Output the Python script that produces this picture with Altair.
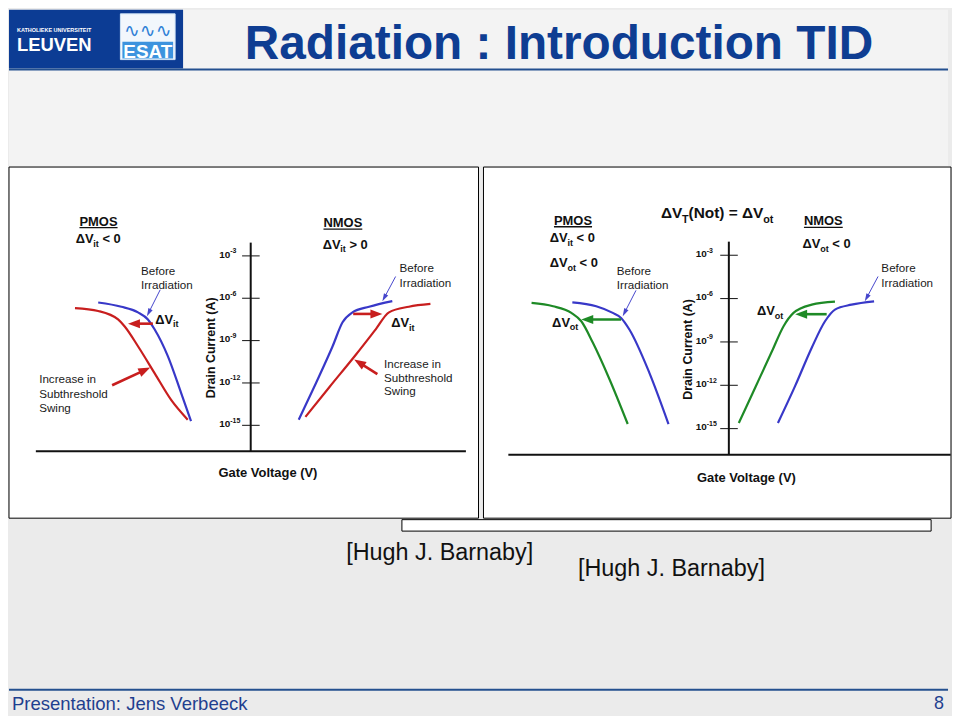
import math
import altair as alt
import pandas as pd

FONT = "Liberation Sans"
C_BLUE = "#3838c8"
C_RED = "#c81e1e"
C_GREEN = "#1e8a26"
C_PTR = "#4646cc"
C_INK = "#111111"
C_SLIDE = "#0e3d92"
C_LINE = "#24508f"
NB = "\u00a0"

# ---------------- left panel: interface traps (x = gate voltage, E = log10 drain current) ----------------
L_PRE_P_V = [-4.6, -3.9, -3.4, -3.1, -2.9, -2.5, -2.1, -1.8]
L_PRE_P_E = [-6.3, -6.6, -7.0, -7.5, -8.2, -10.1, -12.7, -14.7]
L_POST_P_V = [-5.3, -4.6, -4.0, -3.8, -3.4, -2.9, -2.4, -1.9]
L_POST_P_E = [-6.7, -6.9, -7.5, -8.0, -9.4, -11.3, -13.2, -14.6]
L_PRE_N_V = [1.45, 1.97, 2.47, 2.77, 3.07, 3.57, 4.27]
L_PRE_N_E = [-14.6, -12.0, -9.4, -7.7, -7.0, -6.6, -6.2]
L_POST_N_V = [1.65, 2.37, 3.17, 3.77, 4.17, 4.77, 5.42]
L_POST_N_E = [-14.4, -12.3, -10.0, -8.2, -7.0, -6.6, -6.4]

# ---------------- right panel: oxide traps ----------------
R_PRE_P_V = [-4.72, -4.0, -3.5, -3.25, -3.0, -2.4, -1.82]
R_PRE_P_E = [-6.26, -6.53, -6.99, -7.34, -8.14, -11.12, -14.68]
R_POST_P_V = [-5.95, -5.3, -4.75, -4.45, -4.1, -3.6, -3.05]
R_POST_P_E = [-6.30, -6.53, -6.99, -7.57, -9.06, -11.58, -14.68]
R_POST_N_V = [0.30, 0.80, 1.30, 1.65, 1.95, 2.50, 3.20]
R_POST_N_E = [-14.61, -12.13, -9.65, -7.91, -6.99, -6.42, -6.21]
R_PRE_N_V = [1.48, 2.00, 2.50, 2.90, 3.20, 3.70, 4.38]
R_PRE_N_E = [-14.61, -12.04, -9.40, -7.57, -6.76, -6.42, -6.19]

TICK_E = [-3, -6, -9, -12, -15]
TICK_SUP = ["-3", "-6", "-9", "-12", "-15"]

# arrows: (from V, from E, to V, to E, colour)
L_THICK = [(-2.95, -7.8, -3.70, -7.8, C_RED), (3.09, -7.11, 3.97, -7.11, C_RED),
           (-4.18, -12.16, -3.03, -10.91, C_RED), (3.82, -11.38, 3.12, -10.33, C_RED)]
L_THIN = [(-2.73, -5.40, -3.13, -7.27, C_PTR), (4.37, -4.46, 3.97, -6.22, C_PTR)]
R_THICK = [(-3.25, -7.45, -4.45, -7.45, C_GREEN), (2.95, -7.08, 2.00, -7.08, C_GREEN)]
R_THIN = [(-2.80, -5.43, -3.20, -7.22, C_PTR), (4.50, -4.47, 4.10, -6.19, C_PTR)]

# plain notes: (text, V, E)
L_NOTES = [("Before", -3.31, -4.06), ("Irradiation", -3.31, -5.04),
           ("Before", 4.49, -3.87), ("Irradiation", 4.49, -4.88),
           ("Increase in", -6.38, -11.74), ("Subthreshold", -6.38, -12.75), ("Swing", -6.38, -13.73),
           ("Increase in", 4.02, -10.61), ("Subthreshold", 4.02, -11.60), ("Swing", 4.02, -12.58)]
R_NOTES = [("Before", -3.38, -4.06), ("Irradiation", -3.38, -5.04),
           ("Before", 4.60, -3.89), ("Irradiation", 4.60, -4.90)]

# rich bold labels: (V start, E centre, font size, segments); "g" = gap in px
LT0 = [("ΔV", "n"), ("it", "sub"), ("3.6", "g"), ("<" + NB + "0", "n")]
GT0 = [("ΔV", "n"), ("it", "sub"), ("3.6", "g"), (">" + NB + "0", "n")]
OT0 = [("ΔV", "n"), ("ot", "sub"), ("3.6", "g"), ("<" + NB + "0", "n")]
L_RICH = [(-5.28, -1.76, 13, LT0),
          (2.17, -2.15, 13, GT0),
          (-2.88, -7.46, 13, [("ΔV", "n"), ("it", "sub")]),
          (4.24, -7.70, 13, [("ΔV", "n"), ("it", "sub")])]
R_RICH = [(-2.05, -0.06, 15.5, [("ΔV", "n"), ("T", "sub"), ("(Not)" + NB + "=" + NB + "ΔV", "n"), ("ot", "sub")]),
          (-5.40, -1.78, 13, LT0),
          (-5.40, -3.50, 13, OT0),
          (2.22, -2.17, 13, OT0),
          (-5.33, -7.61, 13, [("ΔV", "n"), ("ot", "sub")]),
          (0.85, -6.81, 13, [("ΔV", "n"), ("ot", "sub")])]

# centred bold labels: (text, V, E, size, underline)
L_CENTER = [("PMOS", -4.59, -0.53, 13, True), ("NMOS", 2.78, -0.63, 13, True),
            ("Gate Voltage (V)", 0.52, -18.36, 13, False)]
R_CENTER = [("PMOS", -4.70, -0.57, 13, True), ("NMOS", 2.85, -0.61, 13, True),
            ("Gate Voltage (V)", 0.53, -18.40, 13, False)]

WB = {'Δ': 0.70, 'V': 0.667, 'i': 0.278, 't': 0.333, 'o': 0.611, ' ': 0.278, NB: 0.278, '<': 0.584,
      '>': 0.584, '0': 0.556, '1': 0.556, '2': 0.556, '3': 0.556, '5': 0.556, '6': 0.556, '9': 0.556,
      '-': 0.333, 'T': 0.611, '(': 0.333, ')': 0.333, 'N': 0.722, '=': 0.584, 'P': 0.667, 'M': 0.833,
      'O': 0.778, 'S': 0.667}


def tw(s, size):
    return sum(WB.get(ch, 0.6) for ch in s) * size


ONE = pd.DataFrame({"z": [0]})
PH = 353


def build_panel(width, xdom, ydom, curves, thick, thin, notes, rich, centers, tick_x0, axis):
    ppu = width / (xdom[1] - xdom[0])
    ppd = PH / (ydom[1] - ydom[0])
    sx = alt.Scale(domain=xdom, nice=False, zero=False)
    sy = alt.Scale(domain=ydom, nice=False, zero=False)

    def X(f):
        return alt.X(f, type="quantitative", scale=sx, axis=None)

    def Y(f):
        return alt.Y(f, type="quantitative", scale=sy, axis=None)

    layers = []
    layers.append(alt.Chart(ONE).mark_rect(fill="white", stroke="#000000", strokeWidth=1).encode(
        x=alt.value(0), x2=alt.value(width), y=alt.value(0), y2=alt.value(PH)))

    top, bot, xl, xr = axis
    ax = pd.DataFrame([dict(V=0, E=top, V2=0, E2=bot), dict(V=xl, E=bot, V2=xr, E2=bot)])
    layers.append(alt.Chart(ax).mark_rule(color=C_INK, strokeWidth=2).encode(
        x=X("V"), y=Y("E"), x2=alt.X2("V2"), y2=alt.Y2("E2")))
    tk = pd.DataFrame([dict(V=-0.26, E=e, V2=0.27, E2=e) for e in TICK_E])
    layers.append(alt.Chart(tk).mark_rule(color=C_INK, strokeWidth=1).encode(
        x=X("V"), y=Y("E"), x2=alt.X2("V2"), y2=alt.Y2("E2")))

    rows = []
    for i, (vs, es, col) in enumerate(curves):
        for v, e in zip(vs, es):
            rows.append(dict(V=v, E=e, id=i, c=col))
    layers.append(alt.Chart(pd.DataFrame(rows)).mark_line(interpolate="monotone", strokeWidth=2.2).encode(
        x=X("V"), y=Y("E"), detail="id:N", color=alt.Color("c:N", scale=None)))

    def arrows(arr, head_len, shaft_w, shape, size):
        shafts, heads = [], []
        for x0, y0, x1, y1, col in arr:
            dx = (x1 - x0) * ppu
            dy = -(y1 - y0) * ppd
            L = math.hypot(dx, dy)
            ux, uy = dx / L, dy / L
            ang = math.degrees(math.atan2(ux, -uy)) % 360
            cx = x1 - ux * head_len / 2 / ppu
            cy = y1 + uy * head_len / 2 / ppd
            shafts.append(dict(V=x0, E=y0, V2=cx, E2=cy, c=col))
            heads.append(dict(V=cx, E=cy, ang=ang, c=col))
        return [alt.Chart(pd.DataFrame(shafts)).mark_rule(strokeWidth=shaft_w).encode(
            x=X("V"), y=Y("E"), x2=alt.X2("V2"), y2=alt.Y2("E2"), color=alt.Color("c:N", scale=None)),
            alt.Chart(pd.DataFrame(heads)).mark_point(shape=shape, filled=True, size=size, opacity=1).encode(
                x=X("V"), y=Y("E"), angle=alt.Angle("ang:Q", scale=None), color=alt.Color("c:N", scale=None))]

    layers += arrows(thick, 12, 2.6, "M0,-1L0.75,1L-0.75,1Z", 144)
    layers += arrows(thin, 8, 1, "M0,-1L0.6,1L-0.6,1Z", 64)

    # underlines
    ul = []
    for t, v, e, s, u in centers:
        if u:
            w = tw(t, s) / ppu
            yy = e - (0.36 * s + 2) / ppd
            ul.append(dict(V=v - w / 2, E=yy, V2=v + w / 2, E2=yy))
    layers.append(alt.Chart(pd.DataFrame(ul)).mark_rule(color=C_INK, strokeWidth=1.3).encode(
        x=X("V"), y=Y("E"), x2=alt.X2("V2"), y2=alt.Y2("E2")))

    # notes
    nsz = 11.7
    nd = pd.DataFrame([dict(t=t, V=v, E=e - 0.36 * nsz / ppd) for t, v, e in notes])
    layers.append(alt.Chart(nd).mark_text(font=FONT, fontSize=nsz, align="left", baseline="alphabetic",
                                          color="#1a1a1a").encode(x=X("V"), y=Y("E"), text="t:N"))

    # rich bold labels incl. tick labels
    rr = []
    items = list(rich)
    for e, sup in zip(TICK_E, TICK_SUP):
        items.append((tick_x0, e + 0.12, 10, [("10", "n"), (sup, "sup")]))
    for x0, yc, size, segs in items:
        cum = 0.0
        yb = yc - 0.36 * size / ppd
        for txt, role in segs:
            if role == "g":
                cum += float(txt)
                continue
            fs = size if role == "n" else size * 0.7
            shift = 0 if role == "n" else (0.28 * size if role == "sub" else -0.45 * size)
            rr.append(dict(V=x0 + cum / ppu, E=yb - shift / ppd, t=txt, fs=fs))
            cum += tw(txt, fs)
    layers.append(alt.Chart(pd.DataFrame(rr)).mark_text(font=FONT, fontWeight="bold", align="left",
                                                        baseline="alphabetic", color=C_INK).encode(
        x=X("V"), y=Y("E"), text="t:N", size=alt.Size("fs:Q", scale=None)))

    cd = pd.DataFrame([dict(t=t, V=v, E=e - 0.36 * s / ppd, fs=s) for t, v, e, s, u in centers])
    layers.append(alt.Chart(cd).mark_text(font=FONT, fontWeight="bold", align="center",
                                          baseline="alphabetic", color=C_INK).encode(
        x=X("V"), y=Y("E"), text="t:N", size=alt.Size("fs:Q", scale=None)))
    return layers


def drain_layer(v, e, xdom, ydom):
    sx = alt.Scale(domain=xdom, nice=False, zero=False)
    sy = alt.Scale(domain=ydom, nice=False, zero=False)
    d = pd.DataFrame([dict(t="Drain Current (A)", V=v, E=e)])
    return alt.Chart(d).mark_text(font=FONT, fontWeight="bold", fontSize=12.5, angle=270, align="center",
                                  baseline="middle", color=C_INK).encode(
        x=alt.X("V:Q", scale=sx, axis=None), y=alt.Y("E:Q", scale=sy, axis=None), text="t:N")


L_XDOM = [-7.29, 6.87]
L_YDOM = [-21.577, 3.294]
R_XDOM = [-7.40, 6.70]
R_YDOM = [-21.196, 3.104]

left_layers = build_panel(
    472, L_XDOM, L_YDOM,
    [(L_PRE_P_V, L_PRE_P_E, C_BLUE), (L_POST_P_V, L_POST_P_E, C_RED),
     (L_PRE_N_V, L_PRE_N_E, C_BLUE), (L_POST_N_V, L_POST_N_E, C_RED)],
    L_THICK, L_THIN, L_NOTES, L_RICH, L_CENTER, -0.95, (-2.06, -16.83, -6.48, 6.49))
left_layers.append(drain_layer(-1.20, -9.51, L_XDOM, L_YDOM))
left = alt.layer(*left_layers).properties(width=472, height=PH)

right_layers = build_panel(
    470, R_XDOM, R_YDOM,
    [(R_PRE_P_V, R_PRE_P_E, C_BLUE), (R_POST_P_V, R_POST_P_E, C_GREEN),
     (R_PRE_N_V, R_PRE_N_E, C_BLUE), (R_POST_N_V, R_POST_N_E, C_GREEN)],
    R_THICK, R_THIN, R_NOTES, R_RICH, R_CENTER, -1.00, (-2.06, -16.81, -6.65, 6.69))
right_layers.append(drain_layer(-1.23, -9.52, R_XDOM, R_YDOM))
right = alt.layer(*right_layers).properties(width=470, height=PH)


# ---------------- slide header ----------------
def rect(x, x2, y, y2, **kw):
    return alt.Chart(ONE).mark_rect(**kw).encode(x=alt.value(x), x2=alt.value(x2), y=alt.value(y), y2=alt.value(y2))


def label(txt, x, y, **kw):
    return alt.Chart(ONE).mark_text(text=txt, **kw).encode(x=alt.value(x), y=alt.value(y))


def hline(x, x2, y, **kw):
    return alt.Chart(ONE).mark_rule(**kw).encode(x=alt.value(x), x2=alt.value(x2), y=alt.value(y))


header = alt.layer(
    rect(0, 944, 0, 157, fill="#f3f3f3"),
    rect(0, 175, 0, 59, fill="#0c3c94"),
    label("KATHOLIEKE UNIVERSITEIT", 8, 22, font=FONT, fontSize=5.5, fontWeight="bold", color="white",
          align="left", baseline="alphabetic"),
    label("LEUVEN", 8, 41, font=FONT, fontSize=18.5, fontWeight="bold", color="white",
          align="left", baseline="alphabetic"),
    rect(112, 167, 4, 50, fill="#f2f7fc", stroke="#cfe3f5"),
    label("∿∿∿", 139.5, 27, font="DejaVu Sans", fontSize=19, color="#2f7fd6", align="center",
          baseline="alphabetic"),
    rect(114, 165, 32, 49, fill="#3d93de"),
    label("ESAT", 139.5, 48, font=FONT, fontSize=19, fontWeight="bold", color="white", align="center",
          baseline="alphabetic"),
    label("Radiation : Introduction TID", 237, 49, font=FONT, fontSize=48, fontWeight="bold",
          color=C_SLIDE, align="left", baseline="alphabetic"),
    hline(0, 944, 60, color=C_LINE, strokeWidth=2),
).properties(width=944, height=157)

# ---------------- slide footer ----------------
footer = alt.layer(
    rect(395, 927, 0.5, 12, fill="white", stroke="#000000", strokeWidth=1),
    label("[Hugh J. Barnaby]", 339, 41, font=FONT, fontSize=23.5, color="#111111", align="left",
          baseline="alphabetic"),
    label("[Hugh J. Barnaby]", 572, 57, font=FONT, fontSize=23.5, color="#111111", align="left",
          baseline="alphabetic"),
    hline(0, 944, 171.5, color=C_LINE, strokeWidth=2),
    label("Presentation: Jens Verbeeck", 3, 192, font=FONT, fontSize=18.6, color="#1f3f8f", align="left",
          baseline="alphabetic"),
    label("8", 940, 191, font=FONT, fontSize=18, color="#1f3f8f", align="right", baseline="alphabetic"),
).properties(width=944, height=194)

chart = alt.vconcat(
    header,
    alt.hconcat(left, right, spacing=3),
    footer,
    spacing=0,
).properties(padding=0, background="#ebebeb").configure_view(stroke=None)

chart.save("out.html", embed_options={"renderer": "svg", "actions": False})
